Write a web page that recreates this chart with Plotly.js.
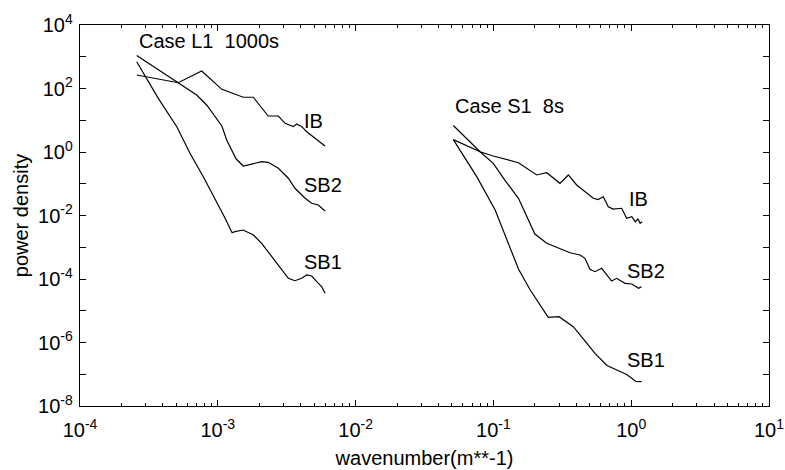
<!DOCTYPE html>
<html>
<head>
<meta charset="utf-8">
<script src="https://cdn.plot.ly/plotly-3.0.1.min.js"></script>
<style>html,body{margin:0;padding:0;background:#fff;}#chart{width:785px;height:470px;}</style>
</head>
<body>
<div id="chart"></div>
<script>
// ---- Case L1 1000s ----
const l1IB_x  = [2.58e-4,5.16e-4,7.64e-4,1.07e-3,1.53e-3,1.81e-3,2.32e-3,2.75e-3,3.08e-3,3.34e-3,3.53e-3,3.74e-3,4.07e-3,4.42e-3,4.93e-3,5.36e-3,6.0e-3];
const l1IB_y  = [266,152,356,94,53,53,13.6,13.6,8.0,7.1,6.3,7.6,6.3,4.36,3.03,2.39,1.55];

const l1SB2_x = [2.58e-4,5.16e-4,7.03e-4,8.30e-4,9.82e-4,1.07e-3,1.16e-3,1.26e-3,1.36e-3,1.53e-3,1.76e-3,2.08e-3,2.32e-3,2.75e-3,3.25e-3,3.63e-3,4.30e-3,4.80e-3,5.36e-3,5.68e-3,6.0e-3];
const l1SB2_y = [1094,152,62.4,30.2,11.5,6.59,2.39,1.16,0.60,0.362,0.419,0.494,0.474,0.307,0.149,0.072,0.0348,0.0242,0.0214,0.0169,0.0139];

const l1SB1_x = [2.58e-4,3.70e-4,5.04e-4,6.28e-4,7.85e-4,9.55e-4,1.13e-3,1.27e-3,1.33e-3,1.53e-3,1.81e-3,2.08e-3,2.46e-3,2.91e-3,3.25e-3,3.63e-3,4.06e-3,4.42e-3,4.80e-3,5.23e-3,5.68e-3,6.0e-3];
const l1SB1_y = [698,49.1,6.27,0.91,0.167,0.0348,8.17e-3,2.87e-3,3.09e-3,3.49e-3,2.43e-3,1.33e-3,5.04e-4,1.92e-4,1.05e-4,8.83e-5,1.05e-4,1.34e-4,1.24e-4,8.22e-5,5.71e-5,3.55e-5];

// ---- Case S1 8s ----
const s1IB_x  = [0.0512,0.080,0.0998,0.152,0.206,0.244,0.304,0.350,0.402,0.449,0.531,0.574,0.627,0.682,0.741,0.853,0.927,1.01,1.07,1.12,1.16,1.20];
const s1IB_y  = [2.45,1.02,0.748,0.460,0.189,0.223,0.103,0.189,0.0914,0.0636,0.0348,0.0319,0.0391,0.0189,0.0160,0.0169,8.17e-3,9.17e-3,6.38e-3,7.76e-3,5.68e-3,6.38e-3];

const s1SB2_x = [0.0512,0.080,0.0998,0.121,0.152,0.179,0.200,0.244,0.288,0.360,0.425,0.462,0.502,0.546,0.611,0.664,0.721,0.785,0.901,1.01,1.13,1.19];
const s1SB2_y = [6.84,1.02,0.441,0.131,0.0348,7.21e-3,2.61e-3,1.33e-3,9.95e-4,6.73e-4,5.70e-4,4.49e-4,2.02e-4,1.70e-4,2.17e-4,1.34e-4,8.65e-5,1.05e-4,7.32e-5,6.96e-5,5.09e-5,5.71e-5];

const s1SB1_x = [0.0512,0.0757,0.103,0.132,0.152,0.185,0.250,0.299,0.380,0.449,0.546,0.667,0.830,0.927,1.01,1.08,1.19];
const s1SB1_y = [2.45,0.167,0.0149,1.04e-3,2.06e-4,4.51e-5,6.22e-6,6.50e-6,3.15e-6,1.29e-6,4.57e-7,1.89e-7,1.20e-7,9.82e-8,7.45e-8,5.91e-8,5.82e-8];

// ---- ticks and labels ----
const xTickVals = [1e-4,1e-3,1e-2,1e-1,1e0,1e1];
const xTickText = ['10<sup>-4</sup>','10<sup>-3</sup>','10<sup>-2</sup>','10<sup>-1</sup>','10<sup>0</sup>','10<sup>1</sup>'];
const yTickVals = [1e-8,1e-6,1e-4,1e-2,1e0,1e2,1e4];
const yTickText = ['10<sup>-8</sup>','10<sup>-6</sup>','10<sup>-4</sup>','10<sup>-2</sup>','10<sup>0</sup>','10<sup>2</sup>','10<sup>4</sup>'];
const yMinorVals = [1e-7,1e-5,1e-3,1e-1,1e1,1e3];
const xTitle = 'wavenumber(m**-1)';
const yTitle = 'power density';

const xMinor = [];
for (let e = -4; e < 1; e++) for (let m = 2; m <= 9; m++) xMinor.push(m * Math.pow(10, e));

const lineStyle = {color: '#000', width: 1.2};
const series = [
  [l1IB_x, l1IB_y], [l1SB2_x, l1SB2_y], [l1SB1_x, l1SB1_y],
  [s1IB_x, s1IB_y], [s1SB2_x, s1SB2_y], [s1SB1_x, s1SB1_y]
];
const traces = series.map(s => ({x: s[0], y: s[1], type: 'scatter', mode: 'lines', line: lineStyle, hoverinfo: 'skip'}));

const font = {family: 'Liberation Sans, Arial, sans-serif', size: 20, color: '#000'};
const ann = (x, y, t) => ({x: x, y: y, xref: 'x', yref: 'y', text: t, showarrow: false, xanchor: 'left', yanchor: 'middle', font: font});

const layout = {
  width: 785, height: 470,
  margin: {l: 80, r: 16, t: 25, b: 64},
  paper_bgcolor: '#fff', plot_bgcolor: '#fff',
  showlegend: false,
  font: font,
  xaxis: {
    type: 'log', range: [-4, 1],
    tickvals: xTickVals, ticktext: xTickText,
    ticks: 'inside', ticklen: 6, tickcolor: '#000', tickwidth: 1,
    minor: {tickvals: xMinor, ticks: 'inside', ticklen: 3, tickcolor: '#000', showgrid: false},
    showline: true, linecolor: '#000', linewidth: 1.2, mirror: 'ticks',
    showgrid: false, zeroline: false,
    tickfont: font, ticklabelstandoff: 6,
    title: {text: xTitle, font: font, standoff: 10}
  },
  yaxis: {
    type: 'log', range: [-8, 4],
    tickvals: yTickVals, ticktext: yTickText,
    ticks: 'inside', ticklen: 6, tickcolor: '#000', tickwidth: 1,
    minor: {tickvals: yMinorVals, ticks: 'inside', ticklen: 6, tickcolor: '#000', showgrid: false},
    showline: true, linecolor: '#000', linewidth: 1.2, mirror: 'ticks',
    showgrid: false, zeroline: false,
    tickfont: font, ticklabelstandoff: 2,
    title: {text: yTitle, font: font, standoff: 4}
  },
  annotations: [
    ann(-3.589, 3.496, 'Case L1  1000s'),
    ann(-2.389, 0.976, 'IB'),
    ann(-2.389, -1.024, 'SB2'),
    ann(-2.389, -3.465, 'SB1'),
    ann(-1.293, 1.449, 'Case S1  8s'),
    ann(-0.030, -1.465, 'IB'),
    ann(-0.045, -3.748, 'SB2'),
    ann(-0.045, -6.551, 'SB1')
  ]
};

Plotly.newPlot('chart', traces, layout, {displayModeBar: false, staticPlot: true});
</script>
</body>
</html>
